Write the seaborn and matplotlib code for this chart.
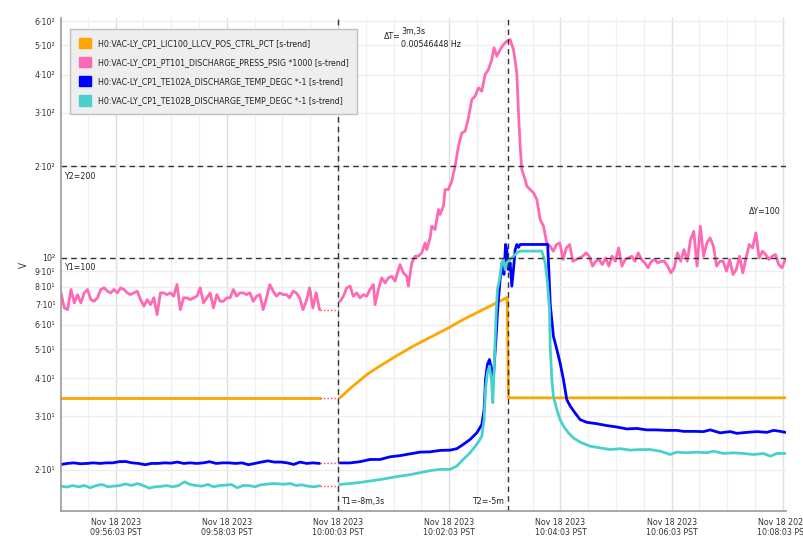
import numpy as np
import pandas as pd
import matplotlib
matplotlib.use("Agg")
import matplotlib.pyplot as plt
import matplotlib.dates as mdates
from matplotlib.ticker import FixedLocator, FixedFormatter, NullLocator
from matplotlib.patches import Patch
import seaborn as sns

# all times are seconds relative to cursor T1 = Nov 18 2023 10:00:03 PST
T1 = pd.Timestamp("2023-11-18 10:00:03")
T2_SEC = 183
X_RANGE = (-299, 483.4)
Y_RANGE = (14.66, 613.8)
Y1, Y2 = 100, 200

names = [
    "H0:VAC-LY_CP1_LIC100_LLCV_POS_CTRL_PCT [s-trend]",
    "H0:VAC-LY_CP1_PT101_DISCHARGE_PRESS_PSIG *1000 [s-trend]",
    "H0:VAC-LY_CP1_TE102A_DISCHARGE_TEMP_DEGC *-1 [s-trend]",
    "H0:VAC-LY_CP1_TE102B_DISCHARGE_TEMP_DEGC *-1 [s-trend]",
]
colors = ["#FFA500", "#FF69B4", "#0000FF", "#48D1CC"]

# ---- before the data gap (uniform samples between these two times) ----
pre_t0, pre_t1 = -299, -20
orange_pre = [34.55, 34.55]
pink_pre = [
    76.5, 68.3, 67.4, 78.5, 70.9, 75.5, 70.9, 76.5, 78.5, 72.7,
    71.8, 73.7, 78.5, 79.5, 77.5, 76.5, 78.5, 76.5, 79.5, 78.5,
    76.5, 75.5, 76.5, 77.5, 72.7, 69.2, 72.7, 70.0, 73.7, 64.9,
    76.5, 76.5, 75.5, 76.5, 74.6, 81.5, 67.4, 73.7, 73.7, 72.7,
    73.7, 74.6, 79.5, 70.9, 73.7, 76.5, 68.3, 75.5, 71.8, 71.8,
    73.7, 73.7, 78.5, 74.6, 76.5, 76.5, 75.5, 76.5, 71.8, 74.6,
    75.5, 67.4, 73.7, 81.5, 77.5, 74.6, 76.5, 75.5, 75.5, 73.7,
    77.5, 76.5, 73.7, 67.4, 71.8, 79.5, 68.3, 76.5, 67.4,
]
blue_pre = [
    20.86, 21.02, 21.11, 20.97, 21.02, 21.11, 21.02, 21.11, 21.11, 21.30,
    21.33, 21.11, 21.02, 20.82, 21.02, 21.02, 21.11, 21.07, 21.24, 21.02,
    21.11, 21.02, 21.11, 21.30, 21.02, 21.11, 21.11, 21.02, 21.11, 20.82,
    21.02, 21.24, 21.43, 21.24, 21.24, 21.11, 20.86, 21.24, 21.02, 21.11,
    21.02,
]
cyan_pre = [
    17.70, 17.57, 17.78, 17.61, 17.78, 17.48, 17.78, 17.92, 17.61, 17.70,
    17.78, 18.00, 17.78, 18.05, 17.78, 17.44, 17.61, 17.66, 17.78, 17.61,
    17.78, 18.28, 17.92, 17.78, 17.70, 17.92, 17.61, 17.78, 17.83, 17.92,
    17.48, 17.78, 17.78, 17.61, 17.87, 17.96, 18.05, 18.00, 17.96, 18.05,
    17.78, 17.87, 17.70, 17.61, 17.74,
]

# ---- after the gap ----
orange_t = [2.2, 7.6, 13, 22, 32.4, 45.3, 63.7, 81, 99.3, 117, 134.9, 153,
            171.6, 182.5, 184, 483.4]
orange_v = [34.6, 35.8, 37.1, 39.1, 41.5, 44.0, 47.6, 51.1, 54.6, 58.2, 62.5,
            66.6, 71.1, 73.9, 34.55, 34.55]

pink_t = [
    2.2, 5.8, 9.4, 13, 16.5, 20.1, 23.7, 27.3, 30.9, 34.5,
    38.1, 39.9, 43.5, 47.1, 50.7, 54.3, 57.9, 61.5, 65.1, 66.9,
    70.5, 74.1, 75.9, 79.5, 83.1, 86.7, 90.3, 93.9, 95.7, 99.3,
    101.1, 104.7, 108.3, 110.1, 113.7, 115.5, 119.1, 122.7, 126.3, 129.9,
    133.5, 137.1, 140.7, 144.3, 147.9, 151.5, 155.1, 158.7, 162.3, 165.9,
    168.4, 171.3, 174.9, 178.5, 182.1, 185.7, 189.3, 192.9, 194.7, 196.5,
    198.3, 201.9, 203.7, 207.3, 210.9, 214.5, 218.1,
]
pink_v = [
    71.8, 74.6, 79.5, 80.5, 74.6, 76.5, 73.7, 75.5, 74.6, 78.5,
    81.5, 70.0, 78.5, 85.7, 82.5, 85.7, 86.8, 83.6, 91.3, 94.8,
    89.0, 86.8, 80.5, 96.0, 101, 101, 103.6, 111.7, 106.2, 116,
    126.8, 123.6, 143.8, 138.5, 147.5, 167.4, 167.4, 178.3, 199.7, 232.4,
    257, 260.4, 288, 331, 339.4, 361.4, 352.4, 400, 415.4, 448,
    489.5, 459.5, 483.2, 502, 514.8, 521.3, 483.2, 405, 299.2, 232.4,
    194.7, 180.5, 171.7, 167.4, 163.2, 155.2, 133.4,
]
# pink tail, uniform samples from 221.7 s to 482.6 s
pink_tail = [
    126.8, 111.7, 109.0, 104.9, 110.4, 111.7, 98.5, 107.6, 110.4, 97.2,
    98.5, 99.7, 101.0, 103.6, 101.0, 93.7, 97.2, 98.5, 94.8, 99.7,
    93.7, 101.0, 97.2, 107.6, 93.7, 98.5, 99.7, 101.0, 97.2, 103.6,
    98.5, 96.0, 92.5, 97.2, 98.5, 96.0, 97.2, 97.2, 93.7, 89.0,
    92.5, 103.6, 97.2, 106.2, 97.2, 114.6, 122.0, 93.7, 126.8, 101.0,
    111.7, 116.0, 109.0, 93.7, 97.2, 97.2, 90.2, 98.5, 87.9, 91.3,
    101.0, 89.0, 99.7, 110.4, 107.6, 120.5, 99.7, 104.9, 102.3, 98.5,
    101.0, 102.3, 94.8, 92.5, 98.5,
]

blue_t = [
    2.2, 12.9, 23.7, 34.5, 45.3, 56.1, 66.9, 77.7, 88.5, 99.3,
    110.1, 120.9, 128.1, 135.3, 142.5, 149.7, 155.1, 157.6, 159.1, 161.2,
    163.4, 165.5, 167.0, 168.4, 170.6, 172.0, 173.4, 174.9, 177.0, 179.0,
    180.8, 182.1, 183.9, 185.7, 187.5, 189.3, 191.1, 192.9, 194.7, 196.5,
    226.2, 227.5, 229.0, 232.4, 236.1, 239.6, 243.2, 246.8, 250.4, 255.8,
    261.2, 268.4, 279.2, 290.0, 300.8, 311.6, 322.4, 333.2, 344.0, 354.8,
    365.6, 372.8, 383.6, 394.4, 401.6, 412.4, 423.2, 430.4, 441.2, 452.0,
    462.8, 470.0, 477.2, 482.6,
]
blue_v = [
    21.1, 21.1, 21.3, 21.66, 21.66, 22.1, 22.3, 22.6, 22.9, 22.95,
    23.2, 23.25, 23.5, 24.3, 25.2, 26.5, 28.2, 31.6, 39.7, 44.5,
    46.2, 42.8, 37.7, 43.9, 55.1, 65.7, 74.6, 84.7, 96.0, 88.0,
    110.4, 106.0, 91.3, 96.0, 80.5, 91.3, 106.0, 110.4, 108.0, 110.4,
    110.4, 90.0, 70.0, 55.1, 49.8, 45.0, 39.7, 34.1, 32.5, 30.8,
    29.3, 28.7, 28.4, 28.0, 27.7, 27.3, 27.4, 27.1, 27.1, 27.0,
    27.0, 26.8, 26.8, 26.75, 27.1, 26.5, 26.75, 26.4, 26.6, 26.75,
    26.6, 27.0, 26.8, 26.6,
]

cyan_t = [
    2.2, 12.9, 23.7, 34.5, 45.3, 56.1, 66.9, 77.7, 88.5, 99.3,
    110.1, 120.9, 128.1, 135.3, 142.5, 149.7, 155.1, 157.6, 159.1, 161.2,
    163.4, 165.5, 167.0, 168.4, 170.6, 172.0, 174.2, 176.7, 178.5, 180.3,
    182.1, 185.7, 189.3, 192.9, 196.5, 219.9, 223.5, 226.0, 228.2, 228.9,
    230.7, 232.4, 236.1, 239.6, 243.2, 248.6, 254.0, 261.2, 272.0, 282.8,
    293.6, 304.4, 315.2, 326.0, 336.8, 347.6, 358.4, 365.6, 376.4, 387.2,
    398.0, 405.2, 416.0, 426.8, 437.6, 448.4, 459.2, 466.4, 473.6, 482.6,
]
cyan_v = [
    17.92, 18.05, 18.2, 18.4, 18.6, 18.85, 19.1, 19.3, 19.6, 19.9,
    20.1, 20.1, 20.6, 21.7, 22.8, 24.3, 25.8, 29.3, 36.8, 41.8,
    43.9, 39.7, 33.3, 42.8, 65.7, 78.5, 84.7, 96.0, 98.5, 91.3,
    96.0, 98.5, 101.0, 103.6, 105.0, 105.0, 96.0, 82.5, 67.4, 51.1,
    39.7, 34.9, 31.6, 29.3, 27.9, 26.5, 25.5, 24.7, 23.95, 23.65,
    23.35, 23.5, 23.25, 23.35, 23.35, 23.06, 22.5, 22.9, 22.78, 22.9,
    22.78, 23.06, 22.67, 22.78, 22.67, 22.49, 22.67, 22.2, 22.67, 22.67,
]


def to_time(sec):
    return T1 + pd.to_timedelta(np.asarray(sec, dtype=float), unit="s")


def uniform(values, t0, t1):
    return np.linspace(t0, t1, len(values))


segments = {
    0: [(uniform(orange_pre, pre_t0, pre_t1), orange_pre), (orange_t, orange_v)],
    1: [(uniform(pink_pre, pre_t0, pre_t1), pink_pre),
        (pink_t + list(uniform(pink_tail, 221.7, 482.6)), pink_v + pink_tail)],
    2: [(uniform(blue_pre, pre_t0, pre_t1), blue_pre), (blue_t, blue_v)],
    3: [(uniform(cyan_pre, pre_t0, pre_t1), cyan_pre), (cyan_t, cyan_v)],
}

FS = 6.3
sns.set_theme(style="white")
plt.rcParams["font.family"] = ["DejaVu Sans"]
plt.rcParams["font.stretch"] = "condensed"
plt.rcParams["font.size"] = FS
plt.rcParams["text.color"] = "#333333"

fig = plt.figure(figsize=(8.04, 5.51), dpi=100)
ax = fig.add_axes([61 / 804, 1 - 511 / 551, 725 / 804, 493 / 551])

for i, segs in segments.items():
    for t, v in segs:
        df = pd.DataFrame({"time": to_time(t), "value": v})
        sns.lineplot(data=df, x="time", y="value", ax=ax, color=colors[i],
                     linewidth=2.0, estimator=None, sort=False)
    # red dotted joiner across the gap
    (ta, va), (tb, vb) = segs
    ax.plot(to_time([ta[-1], tb[0]]), [va[-1], va[-1]], color="#ff4040",
            linestyle=(0, (1, 1.5)), linewidth=1.0)

ax.set_yscale("log")
ax.set_xlim(to_time(X_RANGE))
ax.set_ylim(*Y_RANGE)

# y ticks
ytick_vals = [20, 30, 40, 50, 60, 70, 80, 90, 100, 200, 300, 400, 500, 600]
ytick_labels = ["2·10¹", "3·10¹", "4·10¹", "5·10¹", "6·10¹", "7·10¹", "8·10¹",
                "9·10¹", "10²", "2·10²", "3·10²", "4·10²", "5·10²", "6·10²"]
ax.yaxis.set_major_locator(FixedLocator(ytick_vals))
ax.yaxis.set_major_formatter(FixedFormatter(ytick_labels))
ax.yaxis.set_minor_locator(NullLocator())

# x ticks: majors every 2 min, minors every 30 s
major_times = to_time(np.arange(-240, 484, 120))
minor_times = to_time(np.arange(-270, 484, 30))
ax.xaxis.set_major_locator(FixedLocator(mdates.date2num(major_times)))
ax.xaxis.set_major_formatter(FixedFormatter(
    [t.strftime("%b %d %Y\n%H:%M:%S PST") for t in major_times]))
ax.xaxis.set_minor_locator(FixedLocator(mdates.date2num(minor_times)))

ax.tick_params(axis="both", which="both", length=0, labelsize=FS,
               labelcolor="#333333")
ax.tick_params(axis="x", pad=5)
ax.tick_params(axis="y", pad=4)

ax.set_axisbelow(True)
ax.grid(which="major", axis="x", color="#dedede", linewidth=1)
ax.grid(which="minor", axis="x", color="#f0f0f0", linewidth=1)
ax.grid(which="major", axis="y", color="#eeeeee", linewidth=1)

for side in ["top", "right"]:
    ax.spines[side].set_visible(False)
for side in ["left", "bottom"]:
    ax.spines[side].set_color("#999999")
    ax.spines[side].set_linewidth(1.2)

ax.set_xlabel("")
ax.set_ylabel("V", fontsize=7, color="#333333", labelpad=4)

# cursors
cur_kw = dict(color="#333333", linewidth=1, linestyle=(0, (4, 3)))
ax.axvline(to_time([0])[0], **cur_kw)
ax.axvline(to_time([T2_SEC])[0], **cur_kw)
ax.axhline(Y1, **cur_kw)
ax.axhline(Y2, **cur_kw)

ann = dict(textcoords="offset points", fontsize=FS, color="#222222")
ax.annotate(f"Y1={Y1}", xy=(0.004, Y1), xycoords=("axes fraction", "data"),
            xytext=(0, -4), va="top", ha="left", **ann)
ax.annotate(f"Y2={Y2}", xy=(0.004, Y2), xycoords=("axes fraction", "data"),
            xytext=(0, -4), va="top", ha="left", **ann)
ax.annotate(f"ΔY={Y2 - Y1}", xy=(0.993, np.sqrt(Y1 * Y2)),
            xycoords=("axes fraction", "data"), xytext=(0, 0),
            va="center", ha="right", **ann)
t1_x = mdates.date2num(to_time([0])[0])
t2_x = mdates.date2num(to_time([T2_SEC])[0])
ax.annotate("T1=-8m,3s", xy=(t1_x, 0.02), xycoords=("data", "axes fraction"),
            xytext=(2.5, 0), va="center", ha="left", **ann)
ax.annotate("T2=-5m", xy=(t2_x, 0.02), xycoords=("data", "axes fraction"),
            xytext=(-2.5, 0), va="center", ha="right", **ann)
mid_x = (t1_x + t2_x) / 2
ax.annotate("ΔT=", xy=(mid_x, 0.9615), xycoords=("data", "axes fraction"),
            xytext=(-16, 0), va="center", ha="right", **ann)
ax.annotate("3m,3s\n0.00546448 Hz", xy=(mid_x, 0.9595),
            xycoords=("data", "axes fraction"), xytext=(-15.5, 0),
            va="center", ha="left", linespacing=1.55, **ann)

handles = [Patch(facecolor=c, edgecolor=c) for c in colors]
leg = ax.legend(handles, names, loc="upper left", bbox_to_anchor=(0.0124, 0.9777),
                borderaxespad=0, frameon=True, fancybox=False, framealpha=1,
                facecolor="#eeeeee", edgecolor="#c0c0c0", fontsize=FS,
                handlelength=1.45, handleheight=1.45, handletextpad=0.75,
                labelspacing=1.0, borderpad=1.0)
for txt in leg.get_texts():
    txt.set_color("#222222")

fig.savefig("out.png", dpi=100)
